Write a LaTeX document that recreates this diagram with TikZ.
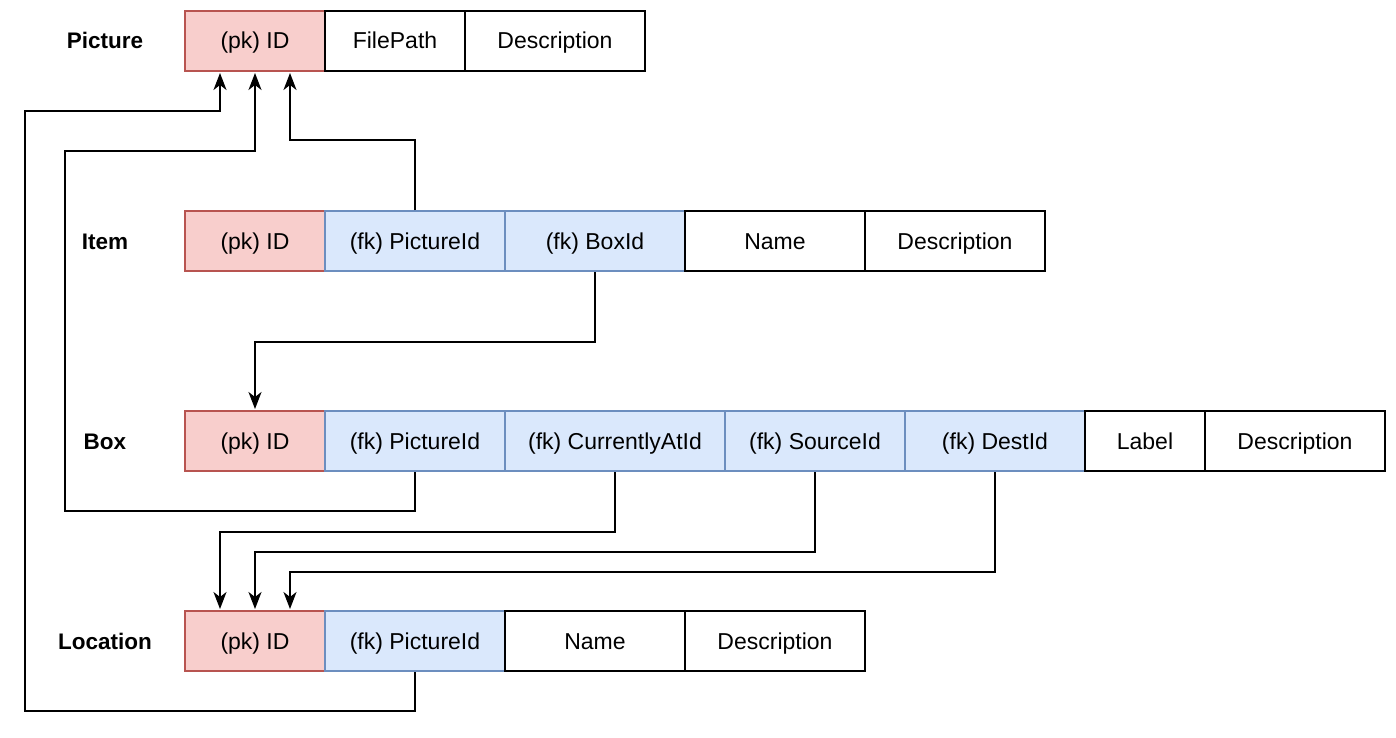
\documentclass[tikz,border=0pt]{standalone}
\usepackage{fontspec}
\setmainfont{Liberation Sans}
\usetikzlibrary{arrows.meta}
\definecolor{pkfill}{HTML}{F8CECC}
\definecolor{pkline}{HTML}{B85450}
\definecolor{fkfill}{HTML}{DAE8FC}
\definecolor{fkline}{HTML}{6C8EBF}
\tikzset{
  cell/.style={draw=black, fill=white, line width=2pt, minimum height=60pt, inner sep=0pt, text height=16pt, text depth=0pt, font=\fontsize{23}{27}\selectfont},
  pk/.style={cell, draw=pkline, fill=pkfill},
  fk/.style={cell, draw=fkline, fill=fkfill},
  tname/.style={font=\fontsize{22.5}{27}\selectfont\bfseries, inner sep=0pt, text height=16pt, text depth=0pt},
  conn/.style={draw=black, line width=2pt, -{Stealth[length=17pt,width=13pt,inset=5pt]}, shorten >=1pt}
}
\begin{document}
\begin{tikzpicture}[x=1pt,y=-1pt]
\useasboundingbox (0,0) rectangle (1396,738);
% Picture
\node[tname] (tPic) at (105,41) {Picture};
\node[pk, minimum width=140pt] (picID) at (255,41) {(pk) ID};
\node[cell, minimum width=140pt] (picPath) at (395,41) {FilePath};
\node[cell, minimum width=180pt] (picDesc) at (555,41) {Description};
% Item
\node[tname] (tItem) at (105,241) {Item};
\node[pk, minimum width=140pt] (itemID) at (255,241) {(pk) ID};
\node[fk, minimum width=180pt] (itemPic) at (415,241) {(fk) PictureId};
\node[fk, minimum width=180pt] (itemBox) at (595,241) {(fk) BoxId};
\node[cell, minimum width=180pt] (itemName) at (775,241) {Name};
\node[cell, minimum width=180pt] (itemDesc) at (955,241) {Description};
% Box
\node[tname] (tBox) at (105,441) {Box};
\node[pk, minimum width=140pt] (boxID) at (255,441) {(pk) ID};
\node[fk, minimum width=180pt] (boxPic) at (415,441) {(fk) PictureId};
\node[fk, minimum width=220pt] (boxCur) at (615,441) {(fk) CurrentlyAtId};
\node[fk, minimum width=180pt] (boxSrc) at (815,441) {(fk) SourceId};
\node[fk, minimum width=180pt] (boxDst) at (995,441) {(fk) DestId};
\node[cell, minimum width=120pt] (boxLabel) at (1145,441) {Label};
\node[cell, minimum width=180pt] (boxDesc) at (1295,441) {Description};
% Location
\node[tname] (tLoc) at (105,641) {Location};
\node[pk, minimum width=140pt] (locID) at (255,641) {(pk) ID};
\node[fk, minimum width=180pt] (locPic) at (415,641) {(fk) PictureId};
\node[cell, minimum width=180pt] (locName) at (595,641) {Name};
\node[cell, minimum width=180pt] (locDesc) at (775,641) {Description};
% connectors
\draw[conn] (itemPic.north) -- ++(0,-70) -| ([xshift=35pt]picID.south);
\draw[conn] (boxPic.south) |- (65,511) |- (255,151) -- (picID.south);
\draw[conn] (locPic.south) |- (25,711) |- (220,111) -- ([xshift=-35pt]picID.south);
\draw[conn] (itemBox.south) -- ++(0,70) -| (boxID.north);
\draw[conn] (boxCur.south) -- ++(0,60) -| ([xshift=-35pt]locID.north);
\draw[conn] (boxSrc.south) -- ++(0,80) -| (locID.north);
\draw[conn] (boxDst.south) -- ++(0,100) -| ([xshift=35pt]locID.north);
\end{tikzpicture}
\end{document}
